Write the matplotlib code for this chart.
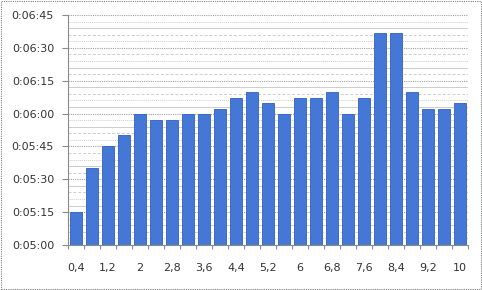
import matplotlib
matplotlib.use("Agg")
import matplotlib.pyplot as plt
from matplotlib.ticker import FuncFormatter, MultipleLocator
from matplotlib.patches import Rectangle

# ---- data ----
categories = ["0,4", "0,8", "1,2", "1,6", "2", "2,4", "2,8", "3,2", "3,6", "4", "4,4", "4,8",
              "5,2", "5,6", "6", "6,4", "6,8", "7,2", "7,6", "8", "8,4", "8,8", "9,2", "9,6", "10"]
times = ["0:05:15", "0:05:35", "0:05:45", "0:05:50", "0:06:00", "0:05:57", "0:05:57", "0:06:00",
         "0:06:00", "0:06:02", "0:06:07", "0:06:10", "0:06:05", "0:06:00", "0:06:07", "0:06:07",
         "0:06:10", "0:06:00", "0:06:07", "0:06:37", "0:06:37", "0:06:10", "0:06:02", "0:06:02",
         "0:06:05"]
y_min = "0:05:00"
y_max = "0:06:45"


def to_sec(s):
    h, m, sec = s.split(":")
    return int(h) * 3600 + int(m) * 60 + int(sec)


def fmt(v, pos=None):
    v = int(round(v))
    return f"{v // 3600}:{(v % 3600) // 60:02d}:{v % 60:02d}"


values = [to_sec(t) for t in times]
ymin, ymax = to_sec(y_min), to_sec(y_max)

fig = plt.figure(figsize=(4.82, 2.90), dpi=100)
ax = fig.add_axes([68 / 482, 45 / 290, 400 / 482, 230 / 290])

x = list(range(len(categories)))
# minor gridlines
for s in range(ymin + 3, ymax + 1, 3):
    if (s - ymin) % 15 == 0:
        continue
    k = ((s - ymin) // 3) % 3
    ls = ["-", (0, (1, 1)), (0, (3, 2))][k]
    ax.axhline(s, color="#cdcdcd", lw=0.7, ls=ls, zorder=0)
for s in range(ymin + 15, ymax + 1, 15):
    ax.axhline(s, color="#a0a0a0", lw=0.8, ls=(0, (1, 1)), zorder=0.5)

ax.bar(x, [v - ymin for v in values], bottom=ymin, width=0.75,
       color="#4577d6", edgecolor="#3060bc", linewidth=0.6, zorder=2)

ax.set_xlim(-0.5, len(categories) - 0.5)
ax.set_ylim(ymin, ymax)
ax.yaxis.set_major_locator(MultipleLocator(15))
ax.yaxis.set_major_formatter(FuncFormatter(fmt))

# category ticks at bar boundaries, labels every second category
ax.set_xticks([i - 0.5 for i in range(len(categories) + 1)])
ax.set_xticklabels([])
ax.set_xticks(x[::2], minor=True)
ax.set_xticklabels(categories[::2], minor=True)
ax.tick_params(axis="x", which="major", length=3, color="#8a8a8a", direction="out")
ax.tick_params(axis="x", which="minor", length=0, pad=13, labelsize=8, labelcolor="#333333")
ax.tick_params(axis="y", length=4, color="#8a8a8a", direction="out", labelsize=8,
               labelcolor="#333333", pad=6)

for sp in ["top", "right"]:
    ax.spines[sp].set_visible(False)
for sp in ["left", "bottom"]:
    ax.spines[sp].set_color("#8a8a8a")
    ax.spines[sp].set_linewidth(0.8)

fig.patches.append(Rectangle((0.003, 0.004), 0.994, 0.992, transform=fig.transFigure,
                             fill=False, edgecolor="#808080", lw=0.8, ls=(0, (1, 1))))

fig.savefig("out.png", dpi=100)
